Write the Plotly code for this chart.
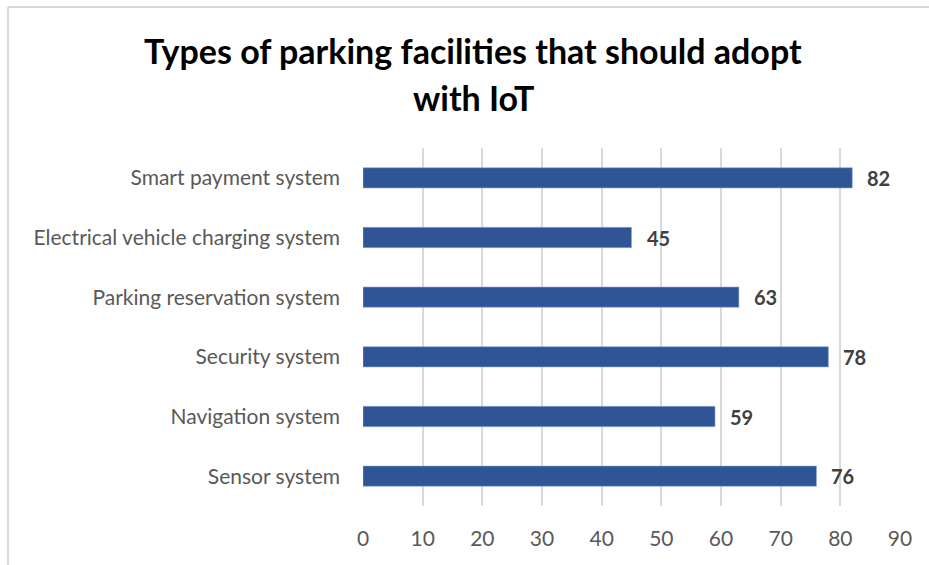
import plotly.graph_objects as go

categories = ["Sensor system", "Navigation system", "Security system",
              "Parking reservation system", "Electrical vehicle charging system",
              "Smart payment system"]
values = [76, 59, 78, 63, 45, 82]
tick_vals = [0, 10, 20, 30, 40, 50, 60, 70, 80, 90]

FONT = "Lato"

fig = go.Figure(go.Bar(
    y=categories, x=values, orientation="h",
    marker=dict(color="#2F5597", line=dict(color="#8FAADC", width=0.6)),
    width=0.34, hoverinfo="x+y",
))

pw = 929 - 363 - 29
ph = 565 - 148 - 59

annotations = []
for c, v in zip(categories, values):
    annotations.append(dict(x=v, y=c, xref="x", yref="y", text=f"<b>{v}</b>",
                            showarrow=False, xanchor="left", yanchor="middle",
                            xshift=13,
                            font=dict(family=FONT, size=20, color="#404040")))

for txt, py in [("<b>Types of parking facilities that should adopt</b>", 50),
                ("<b>with IoT</b>", 97)]:
    annotations.append(dict(text=txt, x=(473 - 363) / pw, y=(565 - 59 - py) / ph,
                            xref="paper", yref="paper", showarrow=False,
                            xanchor="center", yanchor="middle",
                            font=dict(family=FONT, size=34, color="black")))

x0 = (8 - 363) / pw
y1 = (565 - 59 - 7) / ph
shapes = [dict(type="line", xref="paper", yref="paper",
               x0=x0, x1=(929 - 363) / pw + 0.01, y0=y1, y1=y1,
               line=dict(color="#D9D9D9", width=2)),
          dict(type="line", xref="paper", yref="paper",
               x0=x0, x1=x0, y0=-0.2, y1=y1,
               line=dict(color="#D9D9D9", width=2))]

fig.update_layout(
    width=929, height=565,
    margin=dict(l=363, r=29, t=148, b=59),
    paper_bgcolor="white", plot_bgcolor="white",
    showlegend=False,
    xaxis=dict(range=[0, 90], tickvals=tick_vals, showgrid=True,
               gridcolor="#D9D9D9", gridwidth=2, zeroline=False,
               tickfont=dict(family=FONT, size=21, color="#595959"),
               ticks="", ticklabelstandoff=18, fixedrange=True),
    yaxis=dict(showgrid=False, zeroline=False, ticks="",
               tickfont=dict(family=FONT, size=21, color="#595959"),
               ticklabelstandoff=22, fixedrange=True),
    annotations=annotations,
    shapes=shapes,
)

fig.write_html("out.html")
